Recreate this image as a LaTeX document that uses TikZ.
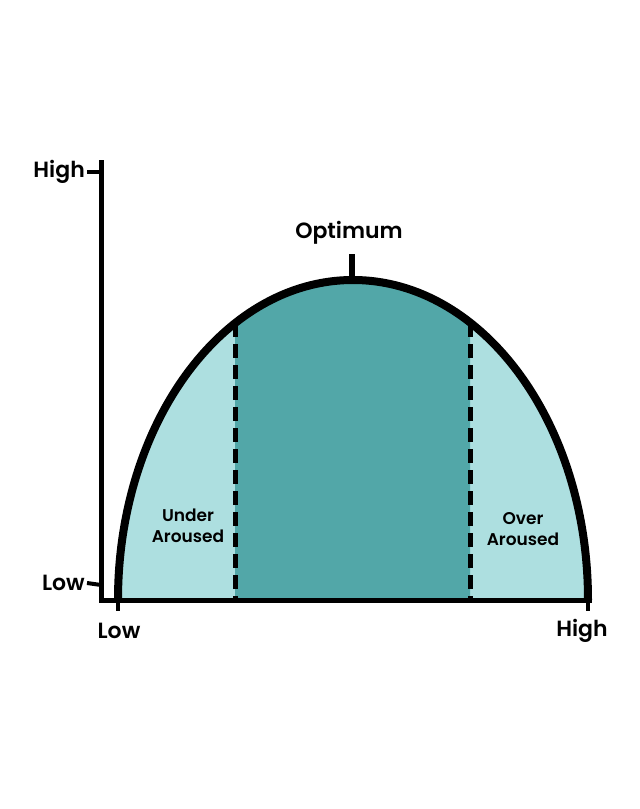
\documentclass[tikz,border=0pt]{standalone}
\usepackage{fontspec}
\setmainfont{Poppins}[BoldFont={* SemiBold}]
\definecolor{lightteal}{HTML}{ADDFE0}
\definecolor{darkteal}{HTML}{52A7A8}
\tikzset{axis/.style={line width=5pt}}
\tikzset{tick/.style={line width=4pt}}
\tikzset{lbl/.style={font=\bfseries\fontsize{22}{22}\selectfont,inner sep=1pt}}
\tikzset{zone/.style={font=\bfseries\fontsize{17}{21}\selectfont,align=center}}
\begin{document}
\begin{tikzpicture}[x=1pt,y=-1pt]
	\useasboundingbox (0,0) rectangle (640,809);
	% regions under the curve
	\fill[lightteal] (118,600) arc[start angle=180,end angle=360,x radius=235,y radius=320] -- cycle;
	\begin{scope}
		\clip (235,0) rectangle (470,600);
		\fill[darkteal] (118,600) arc[start angle=180,end angle=360,x radius=235,y radius=320] -- cycle;
	\end{scope}
	\draw[line width=5pt,dash pattern=on 14pt off 7pt] (235,323) -- (235,600);
	\draw[line width=5pt,dash pattern=on 14pt off 7pt] (470,323) -- (470,600);
	\draw[line width=8pt] (118,600) arc[start angle=180,end angle=360,x radius=235,y radius=320];
	% axes
	\coordinate (origin) at (101,600);
	\coordinate (ytop) at (101,160);
	\coordinate (xend) at (592,600);
	\draw[axis] (ytop) -- (origin) -- (xend);
	\node[lbl,anchor=east] (yhigh) at (86,172) {High};
	\node[lbl,anchor=east] (ylow) at (86,583) {Low};
	\draw[tick] (yhigh.east) ++(1,0) -- (101,172);
	\draw[tick] (ylow.east) ++(1,0) -- (101,585);
	\node[lbl] (xlow) at (119,631) {Low};
	\node[lbl] (xhigh) at (582,631) {High};
	\draw[tick] (118,600) -- (118,611);
	\draw[tick] (588,600) -- (588,611);
	% optimum
	\node[lbl] (optimum) at (349,233) {Optimum};
	\draw[line width=6pt] (352,254) -- (352,282);
	\node[zone] (under) at (188,526) {Under\\Aroused};
	\node[zone] (over) at (523,529) {Over\\Aroused};
\end{tikzpicture}
\end{document}
